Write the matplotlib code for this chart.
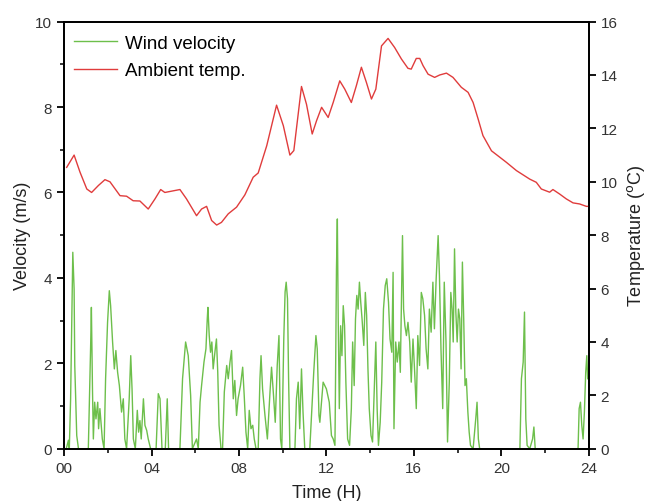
import matplotlib
matplotlib.use("Agg")
import matplotlib.pyplot as plt
from matplotlib.ticker import MultipleLocator, FixedLocator

plt.rcParams["font.family"] = ["Liberation Sans", "DejaVu Sans"]

# wind velocity (m/s)
wind_t = [0.0, 0.10, 0.20, 0.24, 0.30, 0.40, 0.46, 0.49, 0.58, 0.66,
          1.11, 1.22, 1.25, 1.30, 1.34, 1.40, 1.46, 1.54, 1.58, 1.64, 1.75,
          1.83, 1.90, 1.99, 2.07, 2.13, 2.22, 2.30, 2.37, 2.45, 2.53, 2.63,
          2.71, 2.78, 2.86, 2.98, 3.05, 3.11, 3.17, 3.26, 3.35, 3.41, 3.47,
          3.53, 3.63, 3.70, 3.78, 3.85, 3.96, 4.21, 4.31, 4.39, 4.48, 4.63,
          4.72, 4.78, 5.30, 5.42, 5.56, 5.68, 5.79, 5.87, 6.06, 6.14, 6.22,
          6.29, 6.40, 6.49, 6.55, 6.58, 6.64, 6.70, 6.76, 6.82, 6.90, 6.97,
          7.03, 7.09, 7.18, 7.25, 7.33, 7.44, 7.51, 7.59, 7.66, 7.74, 7.81,
          7.89, 7.96, 8.07, 8.17, 8.24, 8.32, 8.40, 8.47, 8.55, 8.63, 8.70,
          8.78, 8.88, 8.96, 9.01, 9.08, 9.19, 9.30, 9.42, 9.49, 9.57, 9.66,
          9.75, 9.83, 9.90, 9.96, 10.05, 10.11, 10.16, 10.22, 10.27, 10.33,
          10.56, 10.63, 10.71, 10.78, 10.86, 10.93, 11.01, 11.24, 11.42,
          11.52, 11.58, 11.66, 11.70, 11.85, 12.00, 12.13, 12.23, 12.31,
          12.39, 12.41, 12.46, 12.50, 12.54, 12.59, 12.65, 12.71, 12.77,
          12.83, 12.89, 12.97, 13.06, 13.14, 13.20, 13.27, 13.33, 13.39,
          13.45, 13.51, 13.57, 13.63, 13.71, 13.78, 13.84, 13.90, 13.96,
          14.04, 14.11, 14.19, 14.26, 14.32, 14.38, 14.46, 14.53, 14.61,
          14.69, 14.76, 14.84, 14.91, 14.99, 15.05, 15.09, 15.17, 15.24,
          15.32, 15.38, 15.48, 15.53, 15.59, 15.66, 15.73, 15.81, 15.88,
          15.96, 16.03, 16.11, 16.18, 16.26, 16.34, 16.41, 16.49, 16.56,
          16.64, 16.71, 16.79, 16.87, 16.94, 17.02, 17.11, 17.17, 17.24,
          17.32, 17.39, 17.47, 17.54, 17.62, 17.69, 17.75, 17.80, 17.86,
          17.92, 17.98, 18.04, 18.10, 18.16, 18.22, 18.28, 18.34, 18.40,
          18.47, 18.53, 18.59, 18.71, 18.83, 18.89, 18.95, 19.01, 20.85,
          20.92, 21.00, 21.06, 21.12, 21.18, 21.30, 21.43, 21.49, 21.55,
          23.51, 23.56, 23.62, 23.68, 23.74, 23.80, 23.86, 23.91, 23.95]
wind_v = [0.0, 0.0, 0.20, 0.0, 1.17, 4.60, 3.74, 1.95, 0.31, 0.0,
          0.0, 2.50, 3.31, 1.40, 0.23, 1.09, 0.70, 1.09, 0.47, 0.94, 0.23,
          0.0, 1.64, 2.96, 3.70, 3.35, 2.50, 1.87, 2.30, 1.79, 1.48, 0.86,
          1.17, 0.23, 0.0, 1.17, 2.18, 1.40, 0.23, 0.0, 0.90, 0.39, 0.66,
          0.23, 1.17, 0.55, 0.43, 0.23, 0.0, 0.0, 1.29, 1.17, 0.0, 0.0,
          1.17, 0.0, 0.0, 1.64, 2.50, 2.18, 1.25, 0.0, 0.23, 0.0, 1.09,
          1.48, 2.03, 2.34, 3.04, 3.31, 2.65, 2.26, 2.50, 1.87, 2.26, 2.57,
          1.79, 0.55, 0.0, 0.0, 1.33, 1.95, 1.64, 2.03, 2.30, 1.17, 1.60,
          0.78, 1.17, 1.48, 1.91, 1.25, 0.39, 0.0, 0.90, 0.47, 0.55, 0.23,
          0.0, 0.0, 1.64, 2.18, 1.40, 0.78, 0.23, 1.33, 1.91, 1.33, 0.62,
          1.95, 2.65, 0.23, 0.0, 2.57, 3.67, 3.90, 3.51, 1.64, 0.0,
          0.0, 1.17, 1.56, 0.47, 1.87, 0.86, 0.0, 0.0, 1.79,
          2.65, 2.34, 0.78, 0.62, 1.56, 1.40, 1.09, 0.31, 0.23,
          0.08, 1.17, 4.21, 5.38, 3.04, 0.94, 2.88, 2.18, 3.35,
          2.88, 1.56, 0.23, 0.08, 0.94, 2.50, 1.48, 3.04, 3.59,
          3.27, 3.90, 3.43, 3.04, 2.42, 3.66, 3.12, 1.87, 0.94,
          0.31, 0.16, 1.40, 2.50, 0.94, 0.08, 0.62, 1.56, 3.27,
          3.82, 3.98, 3.43, 2.57, 2.26, 4.13, 0.47, 2.50, 2.03,
          2.50, 1.79, 4.99, 3.27, 2.88, 2.65, 2.96, 2.50, 1.56,
          2.57, 1.87, 0.94, 2.65, 1.95, 3.66, 3.51, 3.12, 2.34,
          1.87, 3.27, 2.73, 3.90, 2.81, 3.98, 4.99, 4.05, 2.34,
          0.94, 3.90, 2.50, 0.16, 1.56, 3.66, 3.27, 2.50, 4.68,
          3.20, 2.50, 3.27, 3.04, 1.87, 4.37, 3.04, 1.48, 1.64,
          0.86, 0.39, 0.08, 0.0, 0.70, 1.09, 0.23, 0.0, 0.0,
          1.64, 2.03, 3.20, 0.70, 0.08, 0.0, 0.23, 0.51, 0.0,
          0.0, 0.94, 1.09, 0.55, 0.23, 0.86, 1.79, 2.18, 1.64]

# ambient temperature (degC)
temp_t = [0.12, 0.46, 0.73, 1.04, 1.26, 1.57, 1.87, 2.10, 2.56, 2.86,
          3.16, 3.47, 3.85, 4.16, 4.42, 4.61, 5.30, 5.60, 6.06, 6.29,
          6.52, 6.75, 6.98, 7.20, 7.51, 7.89, 8.27, 8.65, 8.88, 9.27,
          9.72, 10.03, 10.33, 10.51, 10.86, 11.09, 11.35, 11.55, 11.78,
          12.08, 12.31, 12.61, 12.84, 13.14, 13.37, 13.60, 13.83, 14.06,
          14.26, 14.52, 14.82, 15.12, 15.43, 15.73, 15.88, 16.11, 16.27,
          16.42, 16.65, 16.95, 17.18, 17.49, 17.79, 18.17, 18.48, 18.71,
          18.94, 19.16, 19.55, 19.93, 20.23, 20.69, 21.30, 21.60, 21.83,
          22.21, 22.36, 22.67, 22.97, 23.28, 23.58, 23.89, 24.0]
temp_c = [10.54, 11.00, 10.36, 9.73, 9.60, 9.86, 10.08, 10.00, 9.48, 9.46,
          9.29, 9.28, 8.98, 9.36, 9.71, 9.60, 9.71, 9.36, 8.73, 8.98,
          9.08, 8.55, 8.38, 8.48, 8.80, 9.05, 9.51, 10.17, 10.33, 11.35,
          12.87, 12.10, 11.00, 11.17, 13.57, 12.90, 11.79, 12.29, 12.79,
          12.41, 12.97, 13.78, 13.47, 12.97, 13.60, 14.29, 13.72, 13.10,
          13.47, 15.09, 15.37, 15.03, 14.60, 14.25, 14.22, 14.62, 14.62,
          14.35, 14.03, 13.91, 14.00, 14.07, 13.91, 13.54, 13.35, 12.97,
          12.35, 11.73, 11.16, 10.92, 10.73, 10.42, 10.10, 9.98, 9.73,
          9.61, 9.71, 9.54, 9.36, 9.21, 9.17, 9.08, 9.08]

x_ticks = [0, 4, 8, 12, 16, 20, 24]
x_labels = ["00", "04", "08", "12", "16", "20", "24"]

fig = plt.figure(figsize=(6.47, 5.02), dpi=100)
ax = fig.add_axes([0.099, 0.104, 0.811, 0.851])
ax2 = ax.twinx()

l1, = ax.plot(wind_t, wind_v, color="#6dbf4b", lw=1.0, label="Wind velocity")
l2, = ax2.plot(temp_t, temp_c, color="#e03c3c", lw=1.0, label="Ambient temp.")

ax.set_xlim(0, 24)
ax.set_ylim(0, 10)
ax2.set_ylim(0, 16)

ax.xaxis.set_major_locator(FixedLocator(x_ticks))
ax.set_xticklabels(x_labels)
ax.xaxis.set_minor_locator(MultipleLocator(2))
ax.yaxis.set_major_locator(MultipleLocator(2))
ax.yaxis.set_minor_locator(MultipleLocator(1))
ax2.yaxis.set_major_locator(MultipleLocator(2))

for a in (ax, ax2):
    for s in a.spines.values():
        s.set_linewidth(1.3)
    a.tick_params(which="major", direction="out", length=5, width=1.3,
                  labelsize=11, colors="black", labelcolor="#333333")
    a.tick_params(which="minor", direction="out", length=3, width=1.1)

ax.set_xlabel("Time (H)", fontsize=13, color="#222222", labelpad=7)
ax.set_ylabel("Velocity (m/s)", fontsize=13, color="#222222", labelpad=3)
ax2.set_ylabel("Temperature ($^{\\mathrm{o}}$C)", fontsize=13, color="#222222",
               labelpad=5)

ax.legend(handles=[l1, l2], loc="upper left", frameon=False, fontsize=13.5,
          handlelength=2.3, handletextpad=0.43, labelspacing=0.55,
          borderaxespad=0.3, bbox_to_anchor=(-0.007, 1.0))

fig.savefig("out.png", dpi=100)
